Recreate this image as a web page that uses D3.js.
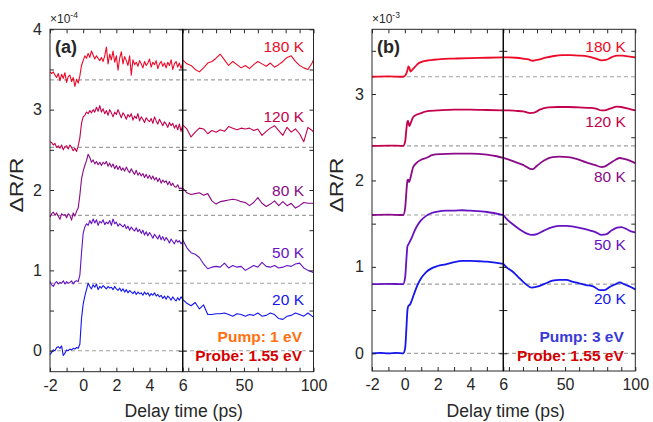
<!DOCTYPE html>
<html>
<head>
<meta charset="utf-8">
<script src="https://cdn.jsdelivr.net/npm/d3@7"></script>
<style>
  body { margin: 0; background: #fff; }
  text { font-family: "Liberation Sans", Arial, Helvetica, sans-serif; }
</style>
</head>
<body>
<svg id="chart" width="653" height="422"></svg>
<script>
// ---- data ----
var tempLabels = ["20 K", "50 K", "80 K", "120 K", "180 K"];
var tempColors = ["#1515ee", "#6612c2", "#8a0a88", "#c4004c", "#ec0a28"];

// panel (a): pump 1 eV, x1e-4, traces shifted by these offsets
var offsetsA = [0, 0.84, 1.685, 2.53, 3.37];
var tLeftA = [-2,-1.9,-1.8,-1.7,-1.6,-1.5,-1.4,-1.3,-1.2,-1.1,-1,-0.9,-0.8,-0.7,-0.6,-0.5,-0.4,-0.3,
  -0.2,-0.1,0,0.1,0.2,0.3,0.4,0.5,0.6,0.7,0.8,0.9,1,1.1,1.2,1.3,1.4,1.5,1.6,1.7,1.8,1.9,2,
  2.1,2.2,2.3,2.4,2.5,2.6,2.7,2.8,2.9,3,3.1,3.2,3.3,3.4,3.5,3.6,3.7,3.8,3.9,4,
  4.1,4.2,4.3,4.4,4.5,4.6,4.7,4.8,4.9,5,5.1,5.2,5.3,5.4,5.5,5.6,5.7,5.8,5.9,6];
var tRightA = [6,9,12,15,18,21,24,27,30,33,36,39,42,45,48,51,54,57,60,63,66,69,72,75,78,81,84,87,90,93,96,99,100];

var a20L = [-0.05,-0.02,0.01,0,0.04,0.05,0.03,0.06,-0.06,-0.03,0.01,0,0.02,0.01,0.03,0.02,0.04,0.03,
  0.08,0.4,0.58,0.68,0.76,0.84,0.8,0.77,0.82,0.79,0.83,0.76,0.8,
  0.78,0.81,0.79,0.77,0.8,0.78,0.79,0.76,0.8,0.77,
  0.75,0.78,0.74,0.77,0.73,0.76,0.72,0.75,0.73,0.71,
  0.74,0.7,0.73,0.71,0.72,0.69,0.73,0.7,0.72,0.68,
  0.71,0.69,0.72,0.68,0.7,0.67,0.69,0.65,0.68,0.64,
  0.68,0.66,0.63,0.67,0.64,0.62,0.66,0.63,0.67,0.64];
var a20R = [0.64,0.59,0.56,0.6,0.52,0.57,0.45,0.45,0.46,0.46,0.47,0.45,0.43,0.46,0.45,0.43,0.45,
  0.44,0.47,0.43,0.44,0.47,0.45,0.4,0.39,0.43,0.44,0.47,0.45,0.43,0.47,0.43,0.42];

var a50L = [0.02,-0.02,-0.04,0,0.02,-0.01,0.01,0,0.03,-0.01,0.02,0,0.01,0.03,-0.01,0.02,0.03,0.02,
  0.1,0.38,0.62,0.7,0.74,0.72,0.78,0.74,0.8,0.75,0.79,0.72,0.77,
  0.75,0.79,0.73,0.76,0.74,0.78,0.72,0.8,0.74,0.76,
  0.71,0.74,0.72,0.7,0.73,0.68,0.71,0.66,0.7,0.67,
  0.65,0.69,0.64,0.67,0.62,0.66,0.6,0.64,0.59,0.63,
  0.6,0.56,0.61,0.58,0.55,0.6,0.54,0.58,0.53,0.57,
  0.54,0.5,0.55,0.52,0.49,0.54,0.51,0.53,0.49,0.52];
var a50R = [0.54,0.44,0.38,0.36,0.32,0.24,0.18,0.2,0.21,0.2,0.25,0.19,0.22,0.2,0.21,0.16,0.19,
  0.22,0.2,0.26,0.21,0.2,0.22,0.19,0.2,0.22,0.21,0.24,0.25,0.19,0.16,0.14,0.13];

var a80L = [-0.02,0.02,0.04,0,0.03,-0.01,-0.05,0.02,0,0.01,-0.03,0.02,0,-0.06,0.03,-0.01,0.05,0.09,
  0.25,0.45,0.55,0.62,0.68,0.76,0.72,0.66,0.69,0.64,0.67,0.63,0.66,
  0.62,0.66,0.64,0.67,0.61,0.65,0.6,0.64,0.58,0.62,
  0.57,0.61,0.56,0.59,0.55,0.6,0.56,0.53,0.58,0.54,
  0.51,0.56,0.5,0.53,0.49,0.52,0.47,0.51,0.46,0.5,
  0.45,0.49,0.44,0.47,0.42,0.46,0.4,0.44,0.41,0.43,
  0.38,0.42,0.37,0.4,0.36,0.35,0.38,0.33,0.34,0.32];
var a80R = [0.34,0.28,0.26,0.27,0.28,0.25,0.27,0.18,0.14,0.17,0.18,0.19,0.2,0.19,0.17,0.16,0.12,
  0.16,0.22,0.15,0.11,0.14,0.18,0.12,0.17,0.12,0.15,0.09,0.12,0.16,0.15,0.15,0.15];

var a120L = [0.07,0.06,0.03,0.05,0,0.02,-0.01,0.03,-0.03,0.01,0.02,-0.02,0.03,0,-0.04,-0.01,-0.05,0.02,
  0.12,0.3,0.38,0.4,0.44,0.42,0.46,0.43,0.47,0.44,0.5,0.45,0.52,
  0.44,0.48,0.42,0.46,0.4,0.47,0.43,0.38,0.44,0.41,
  0.47,0.42,0.37,0.43,0.4,0.35,0.41,0.38,0.42,0.34,
  0.39,0.36,0.42,0.33,0.38,0.35,0.31,0.37,0.34,0.32,
  0.36,0.3,0.38,0.33,0.29,0.35,0.31,0.27,0.32,0.29,
  0.25,0.31,0.27,0.3,0.24,0.28,0.22,0.29,0.2,0.28];
var a120R = [0.28,0.23,0.13,0.19,0.24,0.23,0.17,0.21,0.19,0.22,0.2,0.26,0.24,0.22,0.24,0.23,0.24,
  0.21,0.23,0.15,0.2,0.24,0.27,0.21,0.15,0.25,0.19,0.23,0.17,0.07,0.25,0.21,0.19];

var a180L = [0.1,0.08,0.1,0.06,0.03,0.08,-0.01,0.07,0.02,0.09,-0.03,0.04,0.06,-0.02,0.03,-0.08,0.01,-0.04,
  0.05,0.18,0.24,0.3,0.27,0.33,0.28,0.36,0.31,0.26,0.3,0.27,0.24,
  0.28,0.23,0.3,0.41,0.2,0.32,0.25,0.36,0.22,0.3,
  0.12,0.27,0.35,0.2,0.29,0.24,0.18,0.3,0.06,0.25,
  0.19,0.22,0.17,0.24,0.2,0.15,0.23,0.18,0.21,0.26,
  0.16,0.22,0.19,0.24,0.14,0.2,0.23,0.17,0.21,0.15,
  0.22,0.18,0.25,0.13,0.2,0.23,0.16,0.21,0.14,0.21];
var a180R = [0.25,0.2,0.18,0.13,0.1,0.15,0.21,0.23,0.27,0.32,0.25,0.18,0.23,0.19,0.15,0.18,0.14,
  0.19,0.23,0.2,0.17,0.21,0.16,0.19,0.23,0.28,0.3,0.23,0.18,0.15,0.13,0.21,0.25];

// panel (b): pump 3 eV, x1e-3, [delay, dR/R]
var offsetsB = [0, 0.8, 1.6, 2.4, 3.2];
var b20 = [[-2,0],[-1.5,0.004],[-1,0],[-0.5,0.004],[-0.1,0],[0.02,0.06],[0.1,0.3],[0.16,0.5],[0.22,0.55],
  [0.3,0.56],[0.4,0.6],[0.55,0.68],[0.75,0.78],[1,0.87],[1.3,0.94],[1.6,0.98],[2,1.01],[2.5,1.03],
  [3,1.055],[3.5,1.07],[4,1.07],[4.5,1.065],[5,1.06],[5.5,1.05],[6,1.035],
  [8,1.0],[13,0.94],[18,0.86],[22,0.8],[26,0.76],[30,0.77],[35,0.8],[41,0.84],[46,0.85],[51,0.85],
  [55,0.83],[60,0.81],[65,0.79],[70,0.775],[75,0.73],[78,0.73],[82,0.77],[86,0.8],[89,0.82],
  [92,0.8],[95,0.78],[100,0.74]];
var b50 = [[-2,0],[-1,0.004],[-0.1,0],[0.02,0.08],[0.1,0.3],[0.16,0.44],[0.22,0.46],[0.3,0.49],
  [0.45,0.55],[0.6,0.62],[0.8,0.69],[1,0.74],[1.3,0.79],[1.6,0.82],[2,0.84],[2.5,0.85],[3,0.85],
  [3.5,0.855],[4,0.85],[5,0.835],[6,0.8],
  [8,0.76],[13,0.69],[18,0.63],[22,0.59],[26,0.57],[30,0.58],[35,0.62],[41,0.66],[46,0.675],
  [51,0.675],[56,0.665],[62,0.645],[68,0.62],[72,0.6],[76,0.57],[79,0.575],[83,0.62],[87,0.655],
  [90,0.66],[94,0.635],[97,0.61],[100,0.6]];
var b80 = [[-2,0],[-1,0.004],[-0.1,0],[0.02,0.08],[0.1,0.28],[0.16,0.4],[0.2,0.41],[0.26,0.38],
  [0.33,0.42],[0.5,0.55],[0.7,0.6],[1,0.64],[1.3,0.66],[1.7,0.695],[2.2,0.705],[3,0.71],[4,0.71],
  [5,0.7],[5.6,0.68],[6,0.66],
  [10,0.64],[15,0.61],[20,0.58],[25,0.535],[27,0.53],[30,0.57],[35,0.63],[41,0.67],[46,0.675],
  [52,0.67],[58,0.65],[65,0.61],[71,0.58],[76,0.555],[78,0.56],[82,0.6],[86,0.64],[89,0.66],
  [92,0.65],[96,0.63],[100,0.6]];
var b120 = [[-2,0],[-1,0.004],[-0.1,0],[0.02,0.05],[0.1,0.2],[0.16,0.28],[0.2,0.29],[0.27,0.23],
  [0.35,0.26],[0.5,0.33],[0.7,0.36],[1,0.38],[1.3,0.4],[2,0.41],[3,0.42],[4,0.42],[5,0.415],[6,0.41],
  [10,0.41],[15,0.405],[20,0.4],[25,0.38],[28,0.385],[32,0.42],[38,0.445],[45,0.45],[52,0.45],
  [60,0.445],[68,0.44],[72,0.43],[76,0.41],[78,0.41],[82,0.43],[87,0.455],[90,0.45],[95,0.43],[100,0.41]];
var b180 = [[-2,0],[-1,0.004],[-0.1,0],[0.05,0.02],[0.15,0.07],[0.22,0.12],[0.28,0.1],[0.35,0.06],
  [0.45,0.08],[0.6,0.11],[0.8,0.15],[1,0.17],[1.3,0.185],[1.7,0.195],[2.2,0.205],[3,0.21],[4,0.215],
  [5,0.22],[6,0.225],
  [10,0.225],[15,0.22],[20,0.21],[24,0.2],[27,0.185],[30,0.195],[36,0.22],[42,0.24],[48,0.25],
  [54,0.25],[60,0.245],[66,0.235],[72,0.21],[76,0.19],[79,0.195],[83,0.225],[87,0.245],[91,0.245],
  [95,0.235],[100,0.225]];

// ticks
var yTicksA = [0,0.5,1,1.5,2,2.5,3,3.5,4];
var yTicksB = [0,0.5,1,1.5,2,2.5,3,3.5];
var xTicksLeft = [-2,-1,0,1,2,3,4,5,6];
var xLabelsLeft = [-2,0,2,4,6];
var xTicksRight = [10,20,30,40,50,60,70,80,90,100];
var xLabelsRight = [50,100];

// ---- drawing ----
var svg = d3.select("#chart");
var ink = "#262626";

function drawPanel(p) {
  var g = svg.append("g");
  var xL = d3.scaleLinear().domain([-2, 6]).range([p.left, p.mid]);
  var xR = d3.scaleLinear().domain([6, 100]).range([p.mid, p.right]);
  var y = d3.scaleLinear().domain(p.yDomain).range([p.bottom, p.top]);

  // dashed zero lines for each trace
  p.offsets.forEach(function(o) {
    g.append("line")
      .attr("x1", p.left).attr("x2", p.right)
      .attr("y1", y(o)).attr("y2", y(o))
      .attr("stroke", "#a0a0a0").attr("stroke-width", 1.2)
      .attr("stroke-dasharray", "4,3");
  });

  // traces
  p.series.forEach(function(s, i) {
    var lineL = d3.line().x(function(d) { return xL(d[0]); })
      .y(function(d) { return y(d[1] + p.offsets[i]); }).curve(p.curve);
    var lineR = d3.line().x(function(d) { return xR(d[0]); })
      .y(function(d) { return y(d[1] + p.offsets[i]); }).curve(p.curve);
    [[s.left, lineL], [s.right, lineR]].forEach(function(pr) {
      g.append("path").datum(pr[0])
        .attr("d", pr[1])
        .attr("fill", "none")
        .attr("stroke", tempColors[i])
        .attr("stroke-width", p.lw)
        .attr("stroke-linejoin", "round");
    });
    g.append("text")
      .attr("x", p.right - 9.5).attr("y", y(p.labelY[i]))
      .attr("text-anchor", "end")
      .style("font-size", "15.5px")
      .style("fill", tempColors[i])
      .text(tempLabels[i]);
  });

  // axes for both halves
  var halves = [
    {x: xL, x0: p.left, x1: p.mid, ticks: xTicksLeft, labels: xLabelsLeft, yLab: true},
    {x: xR, x0: p.mid, x1: p.right, ticks: xTicksRight, labels: xLabelsRight, yLab: false}
  ];
  halves.forEach(function(h) {
    var fx = function(d) { return h.labels.indexOf(d) >= 0 ? d : ""; };
    var fy = function(d) { return (h.yLab && d % 1 === 0) ? d : ""; };
    var axes = [
      [d3.axisBottom(h.x).tickValues(h.ticks).tickFormat(fx).tickPadding(8), "translate(0," + p.bottom + ")"],
      [d3.axisTop(h.x).tickValues(h.ticks).tickFormat(""), "translate(0," + p.top + ")"],
      [d3.axisLeft(y).tickValues(p.yTicks).tickFormat(fy).tickPadding(8), "translate(" + h.x0 + ",0)"],
      [d3.axisRight(y).tickValues(p.yTicks).tickFormat(""), "translate(" + h.x1 + ",0)"]
    ];
    axes.forEach(function(a) {
      var ag = g.append("g").attr("transform", a[1]).call(a[0].tickSize(-4));
      ag.select(".domain").remove();
      ag.selectAll("line").attr("stroke", ink);
      ag.selectAll("text").style("font-size", "16px").style("fill", ink)
        .style("font-family", '"Liberation Sans", Arial, sans-serif');
    });
    g.append("rect")
      .attr("x", h.x0).attr("y", p.top)
      .attr("width", h.x1 - h.x0).attr("height", p.bottom - p.top)
      .attr("fill", "none").attr("stroke", ink).attr("stroke-width", 1);
  });
  g.append("line")
    .attr("x1", p.mid).attr("x2", p.mid).attr("y1", p.top).attr("y2", p.bottom)
    .attr("stroke", "#000").attr("stroke-width", 1);

  // texts
  g.append("text").attr("x", p.left + 5).attr("y", 53)
    .style("font-size", "18px").style("font-weight", "bold").style("fill", ink)
    .text(p.tag);

  var ex = g.append("text").attr("x", p.left).attr("y", 22.5)
    .style("font-size", "12px").style("fill", ink);
  ex.append("tspan").text("\u00d710");
  ex.append("tspan").attr("dy", -5).style("font-size", "8.5px").text(p.exp);

  g.append("text")
    .attr("transform", "translate(" + p.ylabX + ",185) rotate(-90)")
    .attr("text-anchor", "middle")
    .attr("textLength", 55).attr("lengthAdjust", "spacingAndGlyphs")
    .style("font-size", "18px").style("fill", ink)
    .text("\u0394R/R");

  g.append("text")
    .attr("x", (p.left + p.right) / 2 + 2).attr("y", 417)
    .attr("text-anchor", "middle")
    .style("font-size", "17.6px").style("fill", ink)
    .text("Delay time (ps)");

  g.append("text").attr("x", p.right - 11.5).attr("y", 341.5)
    .attr("text-anchor", "end")
    .style("font-size", "15.5px").style("font-weight", "bold").style("fill", p.pumpColor)
    .text(p.pump);
  g.append("text").attr("x", p.right - 11.5).attr("y", 361)
    .attr("text-anchor", "end")
    .style("font-size", "15.5px").style("font-weight", "bold").style("fill", "#d40000")
    .text("Probe: 1.55 eV");
}

function pairs(ts, vs) {
  return ts.map(function(t, i) { return [t, vs[i]]; });
}

drawPanel({
  tag: "(a)", exp: "-4", pump: "Pump: 1 eV", pumpColor: "#ff7010",
  left: 50, mid: 182.7, right: 313.5, top: 29.3, bottom: 371.7,
  yDomain: [-0.261, 4], yTicks: yTicksA, offsets: offsetsA,
  ylabX: 22.7, lw: 1.1, curve: d3.curveLinear,
  labelY: [0.57, 1.15, 1.92, 2.85, 3.72],
  series: [
    {left: pairs(tLeftA, a20L), right: pairs(tRightA, a20R)},
    {left: pairs(tLeftA, a50L), right: pairs(tRightA, a50R)},
    {left: pairs(tLeftA, a80L), right: pairs(tRightA, a80R)},
    {left: pairs(tLeftA, a120L), right: pairs(tRightA, a120R)},
    {left: pairs(tLeftA, a180L), right: pairs(tRightA, a180R)}
  ]
});

function splitB(arr) {
  return {
    left: arr.filter(function(d) { return d[0] <= 6; }),
    right: arr.filter(function(d) { return d[0] >= 6; })
  };
}

drawPanel({
  tag: "(b)", exp: "-3", pump: "Pump: 3 eV", pumpColor: "#3a3ad8",
  left: 372, mid: 503.3, right: 635.3, top: 29.3, bottom: 371,
  yDomain: [-0.205, 3.749], yTicks: yTicksB, offsets: offsetsB,
  ylabX: 343, lw: 1.8, curve: d3.curveMonotoneX,
  labelY: [0.57, 1.2, 1.985, 2.62, 3.49],
  series: [splitB(b20), splitB(b50), splitB(b80), splitB(b120), splitB(b180)]
});
</script>
</body>
</html>
